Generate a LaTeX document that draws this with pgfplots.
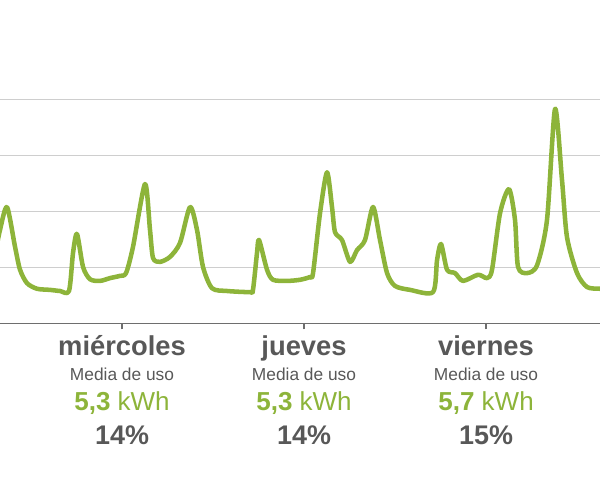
\documentclass[border=0pt]{standalone}
\usepackage{pgfplots}
\pgfplotsset{compat=1.18}
\usepackage{fontspec}
\setmainfont{Liberation Sans}
\definecolor{lineg}{RGB}{141,180,58}
\definecolor{txtg}{RGB}{141,180,58}
\definecolor{txtd}{RGB}{88,88,88}
\definecolor{gridc}{RGB}{206,206,206}
\definecolor{axc}{RGB}{110,110,110}
\newcommand{\dayblock}[4]{%
  \node[anchor=base,text=txtd,font=\fontsize{20.5}{22}\selectfont\bfseries,inner sep=0pt] at ([yshift=-24.4pt]axis cs:#1,0) {#2};
  \node[anchor=base,text=txtd,font=\fontsize{13}{15}\selectfont,inner sep=0pt] at ([yshift=-43.1pt]axis cs:#1,0) {Media de uso};
  \node[anchor=base,text=txtg,inner sep=0pt] at ([yshift=-65.6pt]axis cs:#1,0) {\fontsize{19.5}{21}\selectfont\bfseries #3\mdseries\ kWh};
  \node[anchor=base,text=txtd,font=\fontsize{20.2}{22}\selectfont\bfseries,inner sep=0pt] at ([yshift=-90.4pt]axis cs:#1,0) {#4};
}
\begin{document}
\begin{tikzpicture}
\begin{axis}[
  name=ax,
  width=450pt, height=242.6pt, scale only axis,
  xmin=-4.09, xmax=75.03, ymin=0, ymax=5.777,
  axis line style={draw=none},
  xtick={12,36,60}, xticklabels={},
  xticklabel style={overlay},
  xtick pos=bottom, xtick align=outside,
  x tick style={draw=axc, line width=0.8pt},
  major tick length=4.5pt,
  ytick={1,2,3,4}, yticklabels={}, yticklabel style={overlay},
  y tick style={draw=none},
  ymajorgrids, major grid style={draw=gridc, line width=0.9pt},
  clip mode=individual,
  extra description/.code={\draw[axc, line width=1.1pt] (0,0) -- (1,0);},
]
\addplot[lineg, line width=3.4pt, line join=round, line cap=round, smooth, tension=0.45] coordinates {
(-4.5,1.40) (-4.09,1.67) (-3.17,2.08) (-2.11,1.37) (-1.45,0.96) (-0.53,0.72)
(0.79,0.62) (2.50,0.60) (3.82,0.58) (5.01,0.58) (5.54,1.26) (6.06,1.60)
(6.86,1.01) (7.78,0.79) (9.10,0.76) (10.42,0.81) (11.73,0.85) (12.53,0.90)
(13.45,1.37) (15.03,2.49) (15.69,1.67) (16.09,1.17) (17.01,1.10) (18.33,1.19)
(19.65,1.44) (20.97,2.08) (21.89,1.67) (22.68,1.01) (23.87,0.63) (25.85,0.58)
(28.88,0.56) (29.27,0.60) (29.80,1.26) (30.07,1.49) (31.12,0.96) (31.91,0.78)
(33.76,0.76) (35.47,0.78) (36.79,0.83) (37.19,0.90) (38.11,1.97) (39.03,2.70)
(39.69,2.08) (40.09,1.63) (41.01,1.49) (42.07,1.10) (42.99,1.31) (44.04,1.49)
(45.10,2.08) (46.02,1.49) (46.95,0.90) (48.00,0.67) (49.98,0.60) (53.01,0.56)
(53.54,1.13) (54.07,1.42) (54.86,0.96) (55.91,0.90) (56.97,0.76) (58.95,0.87)
(60.13,0.81) (60.79,0.96) (61.85,1.97) (63.03,2.40) (63.82,1.85) (64.22,1.01)
(65.41,0.90) (66.73,1.04) (68.04,1.85) (69.10,3.83) (70.02,2.56) (70.68,1.54)
(72.00,0.90) (73.32,0.65) (75.03,0.62) (75.5,0.62)
};
\dayblock{12}{miércoles}{5,3}{14\%}
\dayblock{36}{jueves}{5,3}{14\%}
\dayblock{60}{viernes}{5,7}{15\%}
\end{axis}
\pgfresetboundingbox
\path[use as bounding box] ([yshift=-121.1pt]ax.south west) rectangle (ax.north east);
\end{tikzpicture}
\end{document}
